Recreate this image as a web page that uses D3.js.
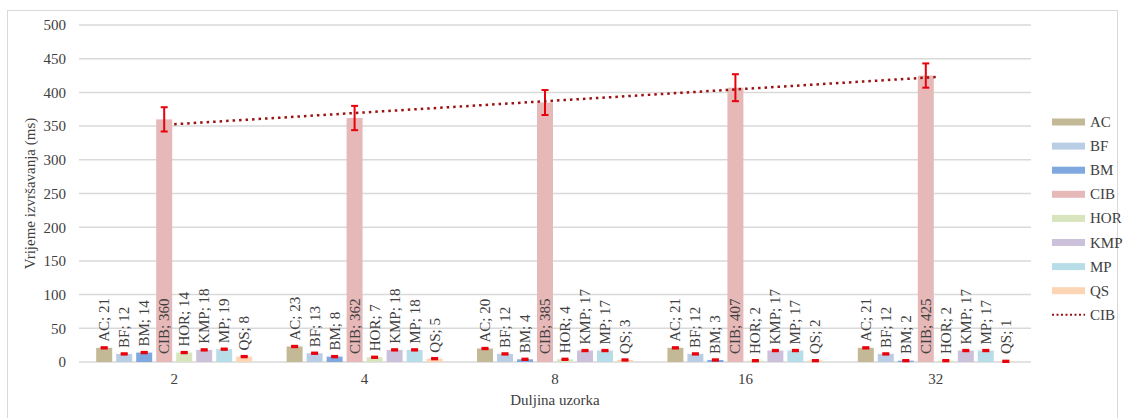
<!DOCTYPE html>
<html><head><meta charset="utf-8">
<script src="https://cdn.jsdelivr.net/npm/d3@7"></script>
<style>body{margin:0;background:#fff}svg{display:block}text{font-family:"Liberation Serif","Times New Roman",serif;fill:#404040}</style>
</head><body><svg id="c" width="1123" height="418"></svg>
<script>
const categories = ["2","4","8","16","32"];
const seriesNames = ["AC","BF","BM","CIB","HOR","KMP","MP","QS"];
const AC  = [21,23,20,21,21];
const BF  = [12,13,12,12,12];
const BM  = [14,8,4,3,2];
const CIB = [360,362,385,407,425];
const HOR = [14,7,4,2,2];
const KMP = [18,18,17,17,17];
const MP  = [19,18,17,17,17];
const QS  = [8,5,3,2,1];
const CIBerr = [18,18,18.5,20,18];
const smallErr = [1,1,1,1,1];
const yTicks = [0,50,100,150,200,250,300,350,400,450,500];
const yTitle = "Vrijeme izvršavanja (ms)";
const xTitle = "Duljina uzorka";
const trendName = "CIB";

const values = {AC,BF,BM,CIB,HOR,KMP,MP,QS};
const errors = {AC:smallErr,BF:smallErr,BM:smallErr,CIB:CIBerr,HOR:smallErr,KMP:smallErr,MP:smallErr,QS:smallErr};
const colors = {AC:"#c4b996",BF:"#b9cde5",BM:"#7ea8de",CIB:"#e6b9b8",HOR:"#d7e4bd",KMP:"#ccc1da",MP:"#b7dee8",QS:"#fcd5b5"};

const svg = d3.select("#c");
const L=79,R=1031,T=25,B=362;
const FS = "15px";
const y = d3.scaleLinear().domain([0,500]).range([B,T]);
const x0 = d3.scaleBand().domain(categories).range([L,R]);
const x1 = d3.scaleBand().domain(seriesNames).range([0,160]).paddingInner(0.2).paddingOuter(0.1);
const groupOff = (x0.bandwidth()-160)/2;

// border
svg.append("rect").attr("x",7.5).attr("y",10.5).attr("width",1110).attr("height",420)
  .attr("fill","none").attr("stroke","#d9d9d9").attr("stroke-width",1);

// gridlines
svg.append("g").selectAll("line").data(yTicks).join("line")
  .attr("x1",L).attr("x2",R).attr("y1",d=>y(d)).attr("y2",d=>y(d))
  .attr("stroke","#d9d9d9").attr("stroke-width",1.5);

// y axis labels
const yAxis = d3.axisLeft(y).tickValues(yTicks).tickSize(0).tickPadding(13);
const ya = svg.append("g").attr("transform",`translate(${L},0)`).call(yAxis);
ya.select(".domain").remove();
ya.selectAll("text").style("font-size",FS).attr("fill","#404040").style("font-family","Liberation Serif");

// x axis labels
const xAxis = d3.axisBottom(x0).tickSize(0).tickPadding(11);
const xa = svg.append("g").attr("transform",`translate(0,${B})`).call(xAxis);
xa.select(".domain").remove();
xa.selectAll("text").style("font-size",FS).attr("fill","#404040").style("font-family","Liberation Serif");

// titles
svg.append("text").attr("transform",`translate(35,${(T+B)/2}) rotate(-90)`).attr("text-anchor","middle")
  .style("font-size",FS).text(yTitle);
svg.append("text").attr("x",(L+R)/2).attr("y",405).attr("text-anchor","middle")
  .style("font-size",FS).text(xTitle);

// bars
const groups = svg.append("g").selectAll("g").data(categories).join("g")
  .attr("transform",c=>`translate(${x0(c)+groupOff},0)`);
groups.each(function(c,i){
  const g = d3.select(this);
  seriesNames.forEach(s=>{
    const v = values[s][i], e = errors[s][i];
    const bx = x1(s), bw = x1.bandwidth(), cx = bx+bw/2;
    g.append("rect").attr("x",bx).attr("y",y(v)).attr("width",bw).attr("height",y(0)-y(v))
      .attr("fill",colors[s]);
    // error bar
    const eg = g.append("g").attr("stroke","#e8000b").attr("stroke-width",2);
    eg.append("line").attr("x1",cx).attr("x2",cx).attr("y1",y(v+e)).attr("y2",y(v-e));
    eg.append("line").attr("x1",cx-3.5).attr("x2",cx+3.5).attr("y1",y(v+e)).attr("y2",y(v+e));
    eg.append("line").attr("x1",cx-3.5).attr("x2",cx+3.5).attr("y1",y(v-e)).attr("y2",y(v-e));
    // label: inside base if it fits in the bar, otherwise just above the bar
    const t = g.append("text").style("font-size",FS).attr("fill","#404040").text(`${s}; ${v}`);
    const len = t.node().getComputedTextLength();
    const base = y(0)-8;
    const ly = (y(0)-y(v) > len+20) ? base : Math.min(base, y(v)-6);
    t.attr("transform",`translate(${cx+5},${ly}) rotate(-90)`);
  });
});

// trend line (linear regression of CIB over category index)
const n = CIB.length, xs = d3.range(1,n+1);
const mx = d3.mean(xs), my = d3.mean(CIB);
const slope = d3.sum(xs,(xv,k)=>(xv-mx)*(CIB[k]-my))/d3.sum(xs,xv=>(xv-mx)**2);
const icpt = my - slope*mx;
const trendPts = [[categories[0],icpt+slope*1],[categories[n-1],icpt+slope*n]];
svg.append("path").datum(trendPts)
  .attr("d",d3.line().x(d=>x0(d[0])+x0.bandwidth()/2).y(d=>y(d[1])))
  .attr("fill","none").attr("stroke","#9b1111").attr("stroke-width",2.5).attr("stroke-dasharray","2.5,4");

// legend
const lg = svg.append("g");
const items = seriesNames.map(s=>({name:s,type:"bar"})).concat([{name:trendName,type:"line"}]);
items.forEach((it,k)=>{
  const yy = 122 + k*24.1;
  if(it.type==="bar"){
    lg.append("rect").attr("x",1052).attr("y",yy-3.5).attr("width",33).attr("height",7).attr("fill",colors[it.name]);
  } else {
    lg.append("line").attr("x1",1052).attr("x2",1085).attr("y1",yy).attr("y2",yy)
      .attr("stroke","#9b1111").attr("stroke-width",2).attr("stroke-dasharray","2,2.5");
  }
  lg.append("text").attr("x",1090).attr("y",yy+5).style("font-size",FS).text(it.name);
});
</script></body></html>
